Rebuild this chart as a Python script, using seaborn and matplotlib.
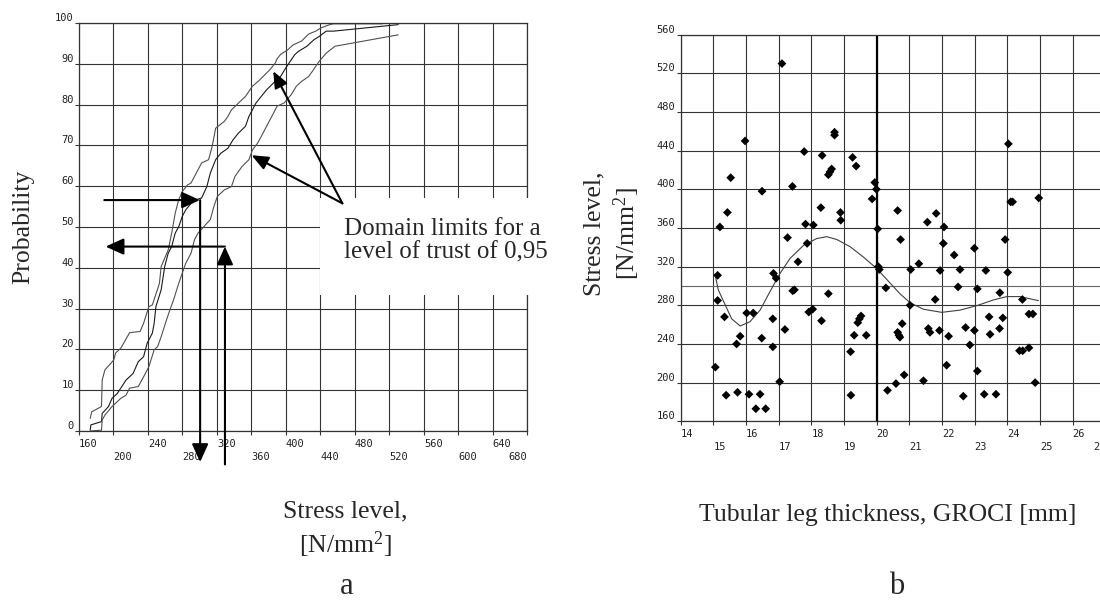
import matplotlib
matplotlib.use('Agg')
import matplotlib.pyplot as plt
import seaborn as sns
from matplotlib.patches import Rectangle

# Panel a: cumulative probability curves (stress level vs probability)
upper_stress = [173.0, 174.7, 186.1, 186.9, 190.1, 200.3, 202.4, 208.5, 218.7, 230.9,
                234.9, 241.1, 245.1, 253.3, 255.3, 263.5, 267.5, 271.6, 275.7, 279.8,
                285.9, 290.0, 296.0, 302.2, 310.3, 314.4, 318.5, 328.6, 332.7, 336.8,
                349.0, 353.1, 361.2, 369.4, 381.6, 387.7, 389.7, 393.8, 402.0, 408.1,
                418.3, 426.4, 434.5, 440.6, 450.8, 454.9, 511.9]
upper_prob = [3.1, 4.7, 6.0, 12.5, 15.0, 17.4, 19.1, 20.3, 24.1, 24.4,
              26.4, 30.5, 30.9, 36.2, 40.3, 44.4, 48.5, 53.4, 56.7, 58.7,
              60.3, 60.8, 63.2, 65.7, 66.5, 69.7, 74.2, 75.9, 77.1, 78.7,
              81.2, 82.0, 84.5, 86.0, 88.6, 90.2, 91.2, 92.3, 93.4, 94.6,
              95.6, 97.3, 98.0, 98.8, 99.6, 99.8, 99.8]

middle_stress = [173.0, 173.8, 180.0, 186.1, 186.9, 194.2, 198.3, 204.4, 214.6, 222.7,
                 228.8, 234.9, 239.0, 245.1, 247.2, 249.2, 255.3, 259.4, 263.5, 267.5,
                 271.6, 275.7, 279.8, 283.8, 290.0, 296.0, 302.2, 308.3, 312.3, 318.5,
                 324.6, 332.7, 338.8, 344.9, 353.1, 357.1, 365.3, 377.5, 385.6, 393.8,
                 399.9, 410.1, 414.2, 424.3, 432.5, 438.6, 446.7, 454.9, 530.3]
middle_prob = [0.2, 1.5, 1.9, 2.3, 4.3, 6.0, 8.0, 9.2, 12.5, 14.1,
               17.0, 18.2, 21.5, 24.0, 26.4, 30.5, 34.6, 40.3, 43.6, 45.2,
               48.5, 50.1, 52.6, 54.2, 55.8, 56.7, 57.1, 59.9, 63.2, 66.5,
               68.1, 69.3, 71.4, 73.0, 74.7, 77.1, 80.4, 83.6, 85.3, 86.9,
               89.0, 92.2, 93.0, 94.3, 95.9, 96.7, 98.0, 98.0, 99.6]

lower_stress = [173.0, 186.1, 186.9, 190.1, 198.3, 202.4, 208.5, 214.6, 218.7, 228.8,
                232.9, 237.0, 241.1, 247.2, 251.2, 255.3, 261.4, 265.5, 269.6, 275.7,
                279.8, 283.8, 290.0, 294.0, 298.1, 308.3, 312.3, 316.4, 320.5, 328.6,
                336.8, 340.9, 349.0, 353.1, 357.1, 361.2, 367.3, 373.4, 379.6, 385.6,
                389.7, 397.9, 406.0, 412.1, 418.3, 426.4, 430.5, 438.6, 446.7, 456.9,
                530.3]
lower_prob = [0.0, 0.2, 2.7, 3.9, 6.0, 6.8, 8.0, 8.8, 10.5, 10.9,
              12.5, 14.1, 15.8, 19.9, 20.7, 23.1, 27.2, 29.7, 32.1, 36.2,
              38.7, 41.1, 43.6, 46.9, 48.5, 50.9, 51.8, 55.0, 57.5, 59.1,
              59.9, 62.4, 64.8, 65.7, 66.5, 68.9, 70.6, 73.0, 75.5, 77.9,
              79.6, 80.4, 82.4, 84.5, 85.7, 86.9, 88.1, 90.6, 92.6, 94.3,
              97.1]

# Panel b: measured points (tubular leg thickness [mm], stress level [N/mm2])
thickness = [17.10, 15.97, 15.53, 17.78, 18.33, 18.71, 18.71, 19.26, 19.37, 18.52,
             18.57, 18.62, 17.42, 16.49, 15.43, 15.20, 17.82, 18.06, 18.29, 18.89,
             18.90, 19.94, 19.99, 19.86, 20.03, 17.27, 17.87, 17.59, 15.13, 16.84,
             16.92, 20.05, 20.08, 20.28, 15.13, 17.43, 17.48, 18.52, 15.34, 16.02,
             16.22, 17.92, 18.04, 16.82, 18.31, 19.42, 19.47, 19.52, 17.19, 15.82,
             15.71, 16.48, 16.82, 19.31, 19.68, 19.20, 15.06, 17.03, 15.39, 15.74,
             16.09, 16.43, 16.30, 16.60, 19.21, 20.33, 24.03, 20.64, 21.55, 21.82,
             22.06, 24.10, 24.16, 24.96, 20.73, 22.04, 23.93, 22.99, 22.37, 21.29,
             21.04, 21.94, 22.55, 23.34, 24.01, 22.49, 23.08, 23.77, 21.79, 24.46,
             21.02, 24.66, 24.78, 23.44, 23.86, 20.78, 20.64, 20.68, 20.71, 21.58,
             21.63, 21.92, 22.20, 22.72, 22.99, 23.47, 23.76, 22.85, 24.37, 24.47,
             24.66, 22.14, 23.08, 20.84, 20.59, 21.43, 24.85, 22.65, 23.29, 23.65]
stress = [530, 450, 412, 439, 435, 459, 456, 433, 424, 415,
          418, 421, 403, 398, 376, 361, 364, 363, 381, 376,
          368, 407, 400, 390, 359, 350, 344, 325, 311, 313,
          308, 320, 317, 298, 285, 295, 296, 292, 268, 272,
          272, 273, 276, 266, 264, 262, 266, 269, 255, 248,
          240, 246, 237, 249, 249, 232, 216, 201, 187, 190,
          188, 188, 173, 173, 187, 192, 447, 378, 366, 375,
          361, 387, 387, 391, 348, 344, 348, 339, 332, 323,
          317, 316, 317, 316, 314, 299, 297, 293, 286, 286,
          280, 271, 271, 268, 267, 261, 252, 249, 247, 256,
          252, 254, 248, 257, 254, 250, 256, 239, 233, 233,
          236, 218, 212, 208, 199, 202, 200, 186, 188, 188]

fit_thickness = [15.05, 15.15, 15.34, 15.56, 15.82, 16.12, 16.43, 16.73, 17.04, 17.35,
                 17.76, 18.16, 18.47, 18.78, 19.18, 19.59, 20.00, 20.41, 20.71, 21.02,
                 21.43, 21.99, 22.55, 23.06, 23.57, 23.98, 24.39, 24.95]
fit_stress = [312, 296, 282, 266, 258.6, 263, 275, 294, 313, 328.6,
              342, 349, 351, 348, 340.7, 330, 318, 303, 292, 282.7,
              275.9, 272.7, 275, 279.6, 285.5, 289, 289, 284.8]

a_major = [160, 240, 320, 400, 480, 560, 640]
a_minor = [200, 280, 360, 440, 520, 600, 680]
a_yticks = [0, 10, 20, 30, 40, 50, 60, 70, 80, 90, 100]
b_major = [14, 16, 18, 20, 22, 24, 26]
b_minor = [15, 17, 19, 21, 23, 25, 27]
b_yticks = [160, 200, 240, 280, 320, 360, 400, 440, 480, 520, 560]

sns.set_theme(style='white')
plt.rcParams['font.family'] = ['Liberation Serif', 'DejaVu Serif']
plt.rcParams['mathtext.fontset'] = 'custom'
plt.rcParams['mathtext.rm'] = 'Liberation Serif'
plt.rcParams['mathtext.it'] = 'Liberation Serif:italic'

GRID = '#333333'
TICKFONT = dict(family='DejaVu Sans Mono', size=7.5, color='#222222')
LABEL_SIZE = 18.5

fig = plt.figure(figsize=(11, 6.01), dpi=100)
W, H = 1100.0, 601.0
ax_a = fig.add_axes([79 / W, 1 - 431 / H, 448.3 / W, 408 / H])
ax_b = fig.add_axes([680.7 / W, 1 - 421.3 / H, 424.7 / W, 386.7 / H])


def style_axes(ax, major, minor, yticks):
    ax.set_xticks(major)
    ax.set_xticks(minor, minor=True)
    ax.set_xticklabels([str(v) for v in major], fontdict=TICKFONT)
    ax.set_xticklabels([str(v) for v in minor], minor=True, fontdict=TICKFONT)
    ax.set_yticks(yticks)
    ax.set_yticklabels([str(v) for v in yticks], fontdict=TICKFONT)
    for lbl in ax.get_xticklabels() + ax.get_xticklabels(minor=True):
        lbl.set_ha('left')
    # the last label sits against the right edge
    ax.get_xticklabels(minor=True)[-1].set_ha('right')
    for lbl in ax.get_yticklabels():
        lbl.set_va('bottom')
    ax.tick_params(axis='x', which='major', direction='out', length=3, width=0.8,
                   color=GRID, pad=2.5, bottom=True)
    ax.tick_params(axis='x', which='minor', direction='out', length=3, width=0.8,
                   color=GRID, pad=12, bottom=True)
    ax.tick_params(axis='y', direction='out', length=3, width=0.8, color=GRID,
                   pad=0.8, left=True)
    ax.grid(True, which='both', color=GRID, linewidth=0.8)
    ax.set_axisbelow(True)
    for sp in ax.spines.values():
        sp.set_color(GRID)
        sp.set_linewidth(0.9)
    ax.set_xlabel('')
    ax.set_ylabel('')


# ---- panel a
sns.lineplot(x=upper_stress, y=upper_prob, sort=False, estimator=None,
             color='#505050', linewidth=0.8, ax=ax_a)
sns.lineplot(x=middle_stress, y=middle_prob, sort=False, estimator=None,
             color='#1a1a1a', linewidth=0.8, ax=ax_a)
sns.lineplot(x=lower_stress, y=lower_prob, sort=False, estimator=None,
             color='#505050', linewidth=0.8, ax=ax_a)
ax_a.set_xlim(160, 680)
ax_a.set_ylim(0, 100)
style_axes(ax_a, a_major, a_minor, a_yticks)

# white box behind the note
ax_a.add_patch(Rectangle((440, 33.3), 300, 23.7, facecolor='white', edgecolor='none',
                         zorder=3, clip_on=False))
ax_a.text(467, 46.6, 'Domain limits for a\nlevel of trust of 0,95', fontsize=18,
          ha='left', va='center', linespacing=1.05, zorder=4)

big_head = '-|>,head_length=1.1,head_width=0.5'
thin_head = '-|>,head_length=1.0,head_width=0.42'


def arrow(ax, start, end, style, lw=1.5):
    ax.annotate('', xy=end, xytext=start, annotation_clip=False, zorder=5,
                arrowprops=dict(arrowstyle=style, color='black', lw=lw,
                                shrinkA=0, shrinkB=0, mutation_scale=10))


arrow(ax_a, (189.3, 56.6), (300.3, 56.6), big_head)
arrow(ax_a, (300.5, 56.6), (300.5, -7.6), big_head)
arrow(ax_a, (329.3, -8.2), (329.3, 45.2), big_head)
arrow(ax_a, (329.3, 45.2), (190.9, 45.2), big_head)
arrow(ax_a, (465.5, 55.8), (385.3, 88.2), thin_head)
arrow(ax_a, (465.5, 55.8), (360.2, 67.6), thin_head)

# ---- panel b
sns.scatterplot(x=thickness, y=stress, marker='D', s=20, color='black',
                edgecolor='none', ax=ax_b, zorder=3)
sns.lineplot(x=fit_thickness, y=fit_stress, sort=False, estimator=None,
             color='#404040', linewidth=0.8, ax=ax_b)
ax_b.set_xlim(14, 27)
ax_b.set_ylim(160, 560)
style_axes(ax_b, b_major, b_minor, b_yticks)
ax_b.axhline(300, color='#666666', linewidth=0.8, zorder=0.6)
ax_b.axvline(20, color='black', linewidth=1.6, zorder=0.7)

# ---- labels
fig.text(23 / W, 1 - 227 / H, 'Probability', rotation=90, ha='center', va='center',
         fontsize=LABEL_SIZE)
fig.text(345 / W, 1 - 553 / H, 'Stress level,\n[N/mm$^2$]', ha='center', va='baseline',
         fontsize=LABEL_SIZE, linespacing=1.3)
fig.text(347 / W, 1 - 594 / H, 'a', ha='center', va='baseline', fontsize=22)
fig.text(613 / W, 1 - 234 / H, 'Stress level,\n[N/mm$^2$]', rotation=90, ha='center',
         va='center', multialignment='center', fontsize=LABEL_SIZE, linespacing=1.25)
fig.text(888 / W, 1 - 521 / H, 'Tubular leg thickness, GROCI [mm]', ha='center',
         va='baseline', fontsize=LABEL_SIZE)
fig.text(897 / W, 1 - 594 / H, 'b', ha='center', va='baseline', fontsize=22)

fig.savefig('out.png', dpi=100, facecolor='white')
